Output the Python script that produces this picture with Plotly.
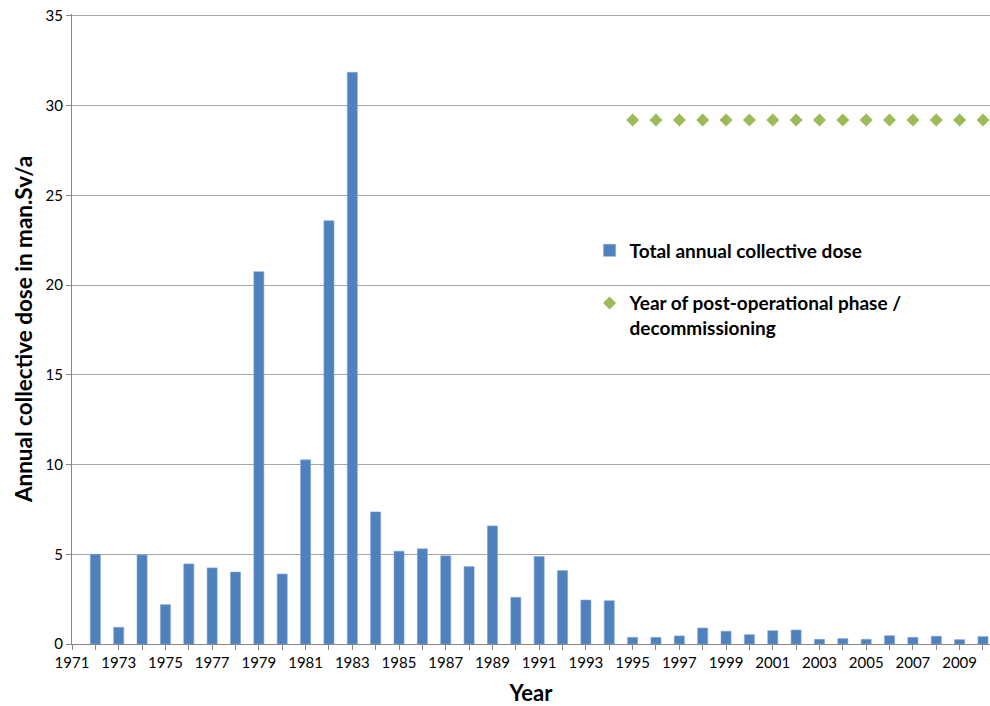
import plotly.graph_objects as go

years = list(range(1972, 2011))
dose = [5.0, 0.93, 4.96, 2.19, 4.46, 4.24, 4.01, 20.74, 3.90, 10.26,
        23.58, 31.85, 7.36, 5.17, 5.30, 4.91, 4.31, 6.58, 2.60, 4.87,
        4.09, 2.45, 2.41, 0.37, 0.37, 0.45, 0.89, 0.71, 0.52, 0.74,
        0.78, 0.26, 0.30, 0.26, 0.46, 0.37, 0.43, 0.24, 0.41]
post_years = list(range(1995, 2011))
post_marker = [29.2] * len(post_years)

tick_years = list(range(1971, 2011))
tick_text = [str(y) if (y - 1971) % 2 == 0 else "" for y in tick_years]

FONT = "Lato"

fig = go.Figure()
fig.add_trace(go.Bar(
    x=years, y=dose, name="Total annual collective dose",
    width=0.43, marker=dict(color="#4F81BD", line=dict(color="#7FA3D3", width=0.6)),
    legendgroup="a"))
fig.add_trace(go.Scatter(
    x=post_years, y=post_marker, mode="markers",
    name="Year of post-operational phase /<br>decommissioning",
    marker=dict(symbol="diamond", size=10, color="#9BBB59"),
    legendgroup="b"))

fig.add_shape(type="rect", xref="paper", yref="paper",
              x0=0.539, x1=0.959, y0=0.4825, y1=0.658,
              fillcolor="white", line=dict(width=0), layer="between")

fig.update_layout(
    width=990, height=706,
    margin=dict(l=72, r=0, t=14, b=62),
    paper_bgcolor="white", plot_bgcolor="white",
    font=dict(family=FONT, color="#000000", size=15),
    bargap=0.5,
    legend=dict(x=0.5638, y=0.6548, xanchor="left", yanchor="top",
                bgcolor="rgba(0,0,0,0)", font=dict(family=FONT, size=19, color="#000000", weight="bold"),
                traceorder="grouped", tracegroupgap=25, valign="top"),
    showlegend=True,
)
fig.update_xaxes(
    range=[1971, 2010.3], tickmode="array", tickvals=tick_years, ticktext=tick_text,
    ticks="outside", ticklen=5, tickcolor="#868686", showline=True, linecolor="#868686",
    linewidth=1, showgrid=False, zeroline=False, tickfont=dict(size=15),
    title=dict(text="Year", font=dict(size=22, weight="bold"), standoff=18))
fig.update_yaxes(
    range=[0, 35.1], tickmode="array", tickvals=[0, 5, 10, 15, 20, 25, 30, 35],
    ticks="outside", ticklen=5, tickcolor="#868686",
    showline=True, linecolor="#868686", linewidth=1, showgrid=True, gridcolor="#A6A6A6",
    gridwidth=1, zeroline=False, tickfont=dict(size=15),
    title=dict(text="Annual collective dose in man.Sv/a", font=dict(size=22.5, weight="bold"), standoff=6))

fig.write_html("out.html", config={"displayModeBar": False},
               post_script="document.body.style.margin='0';document.documentElement.style.overflow='hidden';")
